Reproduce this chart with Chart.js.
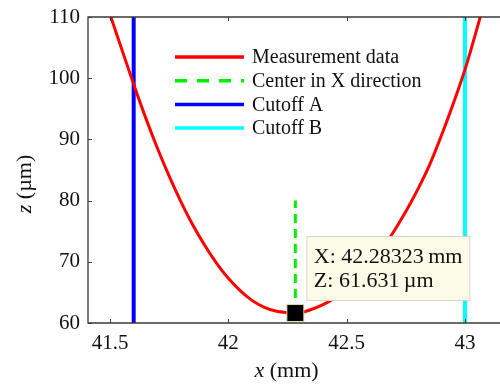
<!DOCTYPE html>
<html>
<head>
<meta charset="utf-8">
<script src="https://cdn.jsdelivr.net/npm/chart.js@4/dist/chart.umd.min.js"></script>
<style>
  html, body { margin: 0; padding: 0; background: #fff; overflow: hidden; }
  #wrap { width: 500px; height: 387px; }
</style>
</head>
<body>
<div id="wrap"><canvas id="chart" width="500" height="387"></canvas></div>
<script>
// Tick labels
const xTicks = [41.5, 42, 42.5, 43];
const zTicks = [60, 70, 80, 90, 100, 110];

const measX = [41.50, 41.55, 41.60, 41.65, 41.70, 41.75, 41.80, 41.85, 41.90, 41.95, 42.00,
               42.05, 42.10, 42.15, 42.20, 42.25, 42.283, 42.30, 42.35, 42.40, 42.45, 42.50,
               42.55, 42.60, 42.65, 42.70, 42.75, 42.80, 42.85, 42.90, 42.95, 43.00, 43.05, 43.08];
const measZ = [110.4, 104.7, 99.0, 93.6, 88.6, 84.0, 79.8, 76.0, 72.7, 69.8, 67.3,
               65.3, 63.7, 62.6, 61.95, 61.68, 61.631, 61.65, 62.2, 63.0, 64.1, 65.6,
               67.5, 69.7, 72.2, 75.0, 78.2, 81.8, 85.8, 90.6, 95.8, 101.4, 108.0, 112.2];

// Reference lines
const cutoffA = 41.6;
const cutoffB = 43.0;
const centerX = 42.28323;
const centerZ = 61.631;
const centerTop = 80;

const FONT = 'Liberation Serif';
const FRAME = '#3a3a3a';
Chart.defaults.font.family = FONT;
Chart.defaults.color = '#111';

// Legend, frame, inward ticks, axis titles and data tip
const extras = {
    id: 'extras',
    afterDatasetsDraw(chart) {
        const ctx = chart.ctx;
        const area = chart.chartArea;
        const xs = chart.scales.x;
        const ys = chart.scales.y;
        ctx.save();

        // frame (right side is cut off in the original)
        ctx.strokeStyle = FRAME;
        ctx.lineWidth = 1.3;
        ctx.beginPath();
        ctx.moveTo(chart.width, area.top);
        ctx.lineTo(area.left, area.top);
        ctx.lineTo(area.left, area.bottom);
        ctx.lineTo(chart.width, area.bottom);
        ctx.stroke();

        // inward ticks
        ctx.lineWidth = 1;
        ctx.beginPath();
        xTicks.forEach(v => {
            const px = Math.round(xs.getPixelForValue(v)) + 0.5;
            ctx.moveTo(px, area.bottom); ctx.lineTo(px, area.bottom - 4);
            ctx.moveTo(px, area.top); ctx.lineTo(px, area.top + 4);
        });
        zTicks.forEach(v => {
            const py = Math.round(ys.getPixelForValue(v)) + 0.5;
            ctx.moveTo(area.left, py); ctx.lineTo(area.left + 4, py);
        });
        ctx.stroke();

        // legend
        ctx.font = '20px ' + FONT;
        ctx.textBaseline = 'middle';
        ctx.textAlign = 'left';
        chart.data.datasets.forEach((ds, i) => {
            if (!ds.label) return;
            const y = 57 + i * 23.7;
            ctx.strokeStyle = ds.borderColor;
            ctx.lineWidth = 3.5;
            ctx.setLineDash(ds.borderDash ? [12, 10] : []);
            ctx.beginPath();
            ctx.moveTo(175, y);
            ctx.lineTo(244, y);
            ctx.stroke();
            ctx.setLineDash([]);
            ctx.fillStyle = '#111';
            ctx.fillText(ds.label, 252, y + 1);
        });

        // data tip
        const px = xs.getPixelForValue(centerX);
        const py = ys.getPixelForValue(centerZ);
        const bx = px + 11.5, by = py - 76.5;
        ctx.fillStyle = '#fbfbe8';
        ctx.strokeStyle = '#d6d6c8';
        ctx.lineWidth = 1;
        ctx.fillRect(bx, by, 163, 64);
        ctx.strokeRect(bx, by, 163, 64);
        ctx.fillStyle = '#111';
        ctx.font = '22px ' + FONT;
        ctx.fillText('X: ' + centerX + '\u2009mm', bx + 7, by + 21);
        ctx.fillText('Z: ' + centerZ + '\u2009\u00b5m', bx + 7, by + 45);

        // axis titles
        ctx.font = 'italic 22px ' + FONT;
        const wa = ctx.measureText('x').width;
        ctx.font = '22px ' + FONT;
        const wb = ctx.measureText(' (mm)').width;
        let sx = 286.5 - (wa + wb) / 2;
        ctx.font = 'italic 22px ' + FONT;
        ctx.fillText('x', sx, 371);
        ctx.font = '22px ' + FONT;
        ctx.fillText(' (mm)', sx + wa, 371);

        ctx.translate(25, 184);
        ctx.rotate(-Math.PI / 2);
        ctx.font = 'italic 22px ' + FONT;
        const za = ctx.measureText('z').width;
        ctx.font = '22px ' + FONT;
        const zb = ctx.measureText(' (\u00b5m)').width;
        sx = -(za + zb) / 2;
        ctx.font = 'italic 22px ' + FONT;
        ctx.fillText('z', sx, 0);
        ctx.font = '22px ' + FONT;
        ctx.fillText(' (\u00b5m)', sx + za, 0);

        ctx.restore();
    }
};

const ctx = document.getElementById('chart').getContext('2d');
const chart = new Chart(ctx, {
    type: 'scatter',
    data: {
        datasets: [
            {
                label: 'Measurement data',
                data: measX.map((x, i) => ({ x: x, y: measZ[i] })),
                showLine: true,
                borderColor: '#ff0000',
                borderWidth: 3,
                pointRadius: 0,
                cubicInterpolationMode: 'monotone',
                order: 3
            },
            {
                label: 'Center in X direction',
                data: [{ x: centerX, y: centerZ }, { x: centerX, y: centerTop }],
                showLine: true,
                borderColor: '#00ee00',
                borderWidth: 3,
                borderDash: [9, 6],
                pointRadius: 0,
                order: 2
            },
            {
                label: 'Cutoff A',
                data: [{ x: cutoffA, y: 60 }, { x: cutoffA, y: 110 }],
                showLine: true,
                borderColor: '#0000ff',
                borderWidth: 4,
                pointRadius: 0,
                order: 4
            },
            {
                label: 'Cutoff B',
                data: [{ x: cutoffB, y: 60 }, { x: cutoffB, y: 110 }],
                showLine: true,
                borderColor: '#00ffff',
                borderWidth: 4,
                pointRadius: 0,
                order: 4
            },
            {
                label: '',
                data: [{ x: centerX, y: centerZ }],
                pointStyle: 'rect',
                pointRadius: 12,
                backgroundColor: '#000000',
                borderColor: '#e6dcaa',
                borderWidth: 1,
                clip: false,
                order: 1
            }
        ]
    },
    options: {
        responsive: false,
        animation: false,
        events: [],
        layout: { autoPadding: false, padding: { top: 17, right: 0, left: 0, bottom: 0 } },
        plugins: {
            legend: { display: false },
            tooltip: { enabled: false }
        },
        scales: {
            x: {
                type: 'linear',
                min: 41.407,
                max: 43.148,
                afterBuildTicks: s => { s.ticks = xTicks.map(v => ({ value: v })); },
                afterFit: s => { s.height = 64; s.paddingLeft = 0; s.paddingRight = 0; },
                grid: { display: false, drawTicks: false },
                border: { display: false },
                ticks: {
                    padding: 8,
                    font: { family: FONT, size: 21 },
                    callback: v => String(v)
                }
            },
            y: {
                type: 'linear',
                min: 60,
                max: 110,
                afterBuildTicks: s => { s.ticks = zTicks.map(v => ({ value: v })); },
                afterFit: s => { s.width = 88; s.paddingTop = 0; s.paddingBottom = 0; },
                grid: { display: false, drawTicks: false },
                border: { display: false },
                ticks: {
                    padding: 8,
                    font: { family: FONT, size: 21 },
                    callback: v => String(v)
                }
            }
        }
    },
    plugins: [extras]
});
</script>
</body>
</html>
